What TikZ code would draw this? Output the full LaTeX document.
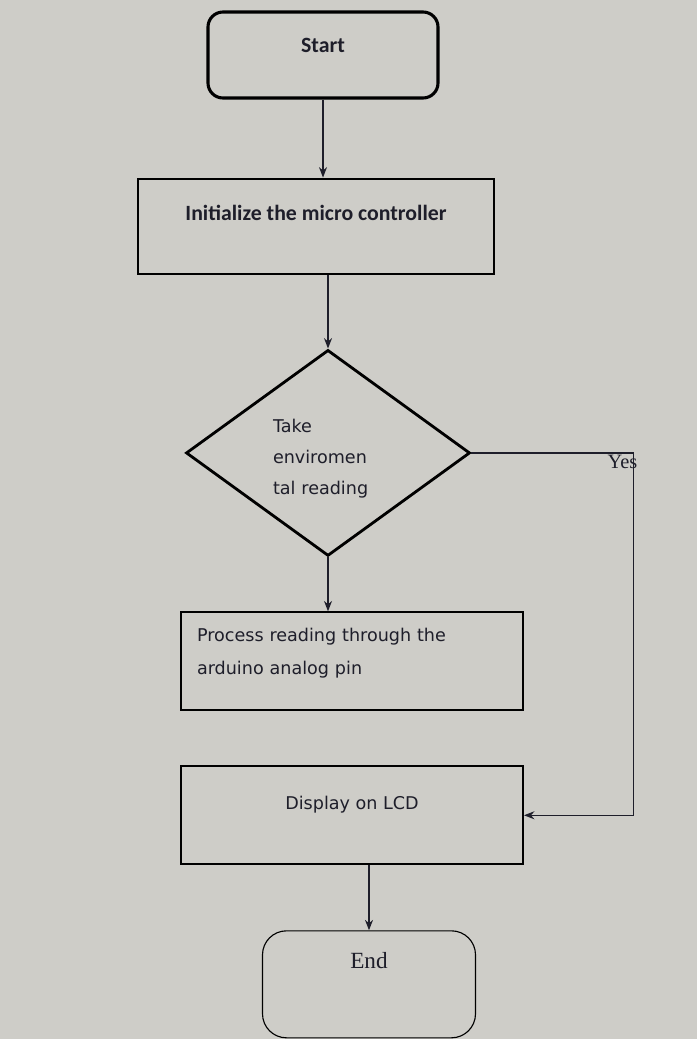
\documentclass[tikz,border=0pt]{standalone}
\usepackage{fontspec}
\setmainfont{Liberation Serif}
\newfontfamily\carlitofont{Carlito}
\newfontfamily\dejafont{DejaVu Sans}
\usepackage{tikz}
\usepackage{xcolor}
\usetikzlibrary{shapes.geometric, arrows.meta, positioning}
\definecolor{paper}{RGB}{206,205,200}
\definecolor{ink}{RGB}{30,30,42}
\tikzstyle{terminal} = [rectangle, rounded corners=0.375cm, minimum width=5.75cm, minimum height=2.15cm, text centered, draw=black, line width=2.2pt, text=ink, font=\carlitofont\bfseries\fontsize{15.5}{18}\selectfont]
\tikzstyle{process} = [rectangle, minimum width=8.55cm, minimum height=2.45cm, draw=black, line width=1.4pt, text=ink, font=\dejafont\fontsize{12.5}{23.4}\selectfont]
\tikzstyle{decision} = [diamond, minimum width=7.1cm, minimum height=5.15cm, inner sep=0pt, text width=2.75cm, align=left, draw=black, line width=2pt, text=ink, font=\dejafont\fontsize{12.5}{22}\selectfont]
\tikzstyle{arrow} = [line width=1pt, draw=ink, -{Stealth[length=0.26cm, width=0.2cm]}]

\begin{document}
\begin{tikzpicture}[node distance=2cm]

\fill[paper] (0,0) rectangle (17.425,-25.975);
\useasboundingbox (0,0) rectangle (17.425,-25.975);

\node (start) [terminal, text height=0.4cm, text depth=0.55cm] at (8.075,-1.375) {Start};

\node (init) [process, below=1.95cm of start, xshift=-0.175cm, minimum width=8.9cm, minimum height=2.375cm, font=\carlitofont\bfseries\fontsize{15.5}{18}\selectfont, text height=0.4cm, text depth=0.68cm] {Initialize the micro controller};

\node (reading) [decision, below=1.85cm of init, xshift=0.3cm, text height=0.4cm, text depth=1.4cm] {Take\\enviromen\\tal reading};

\node (analog) [process, below=1.35cm of reading, xshift=0.6cm, text width=7.75cm, align=left, text height=0.4cm, text depth=1.4cm] {Process reading through the\\arduino analog pin};

\node (lcd) [process, below=1.35cm of analog, text height=0.4cm, text depth=0.68cm] {Display on LCD};

\node (end) [terminal, below=1.625cm of lcd, xshift=0.425cm, minimum width=5.325cm, minimum height=2.675cm, rounded corners=0.6cm, line width=0.8pt, font=\fontsize{16.5}{20}\selectfont, inner ysep=0.6cm, text height=0.35cm, text depth=1.125cm] {End};

% Arrows
\draw [arrow] (start) -- (start |- init.north);
\draw [arrow] (reading.north |- init.south) -- (reading.north);
\draw [arrow] (reading.south) -- (reading.south |- analog.north);
\draw [arrow] (reading.east) -- ++(4.05cm,0) node[anchor=north east, inner sep=1pt, xshift=0.15cm, font=\fontsize{14.5}{17}\selectfont, text=ink] {Yes} |- (lcd.east);
\draw [arrow] (end.north |- lcd.south) -- (end.north);

\end{tikzpicture}
\end{document}
